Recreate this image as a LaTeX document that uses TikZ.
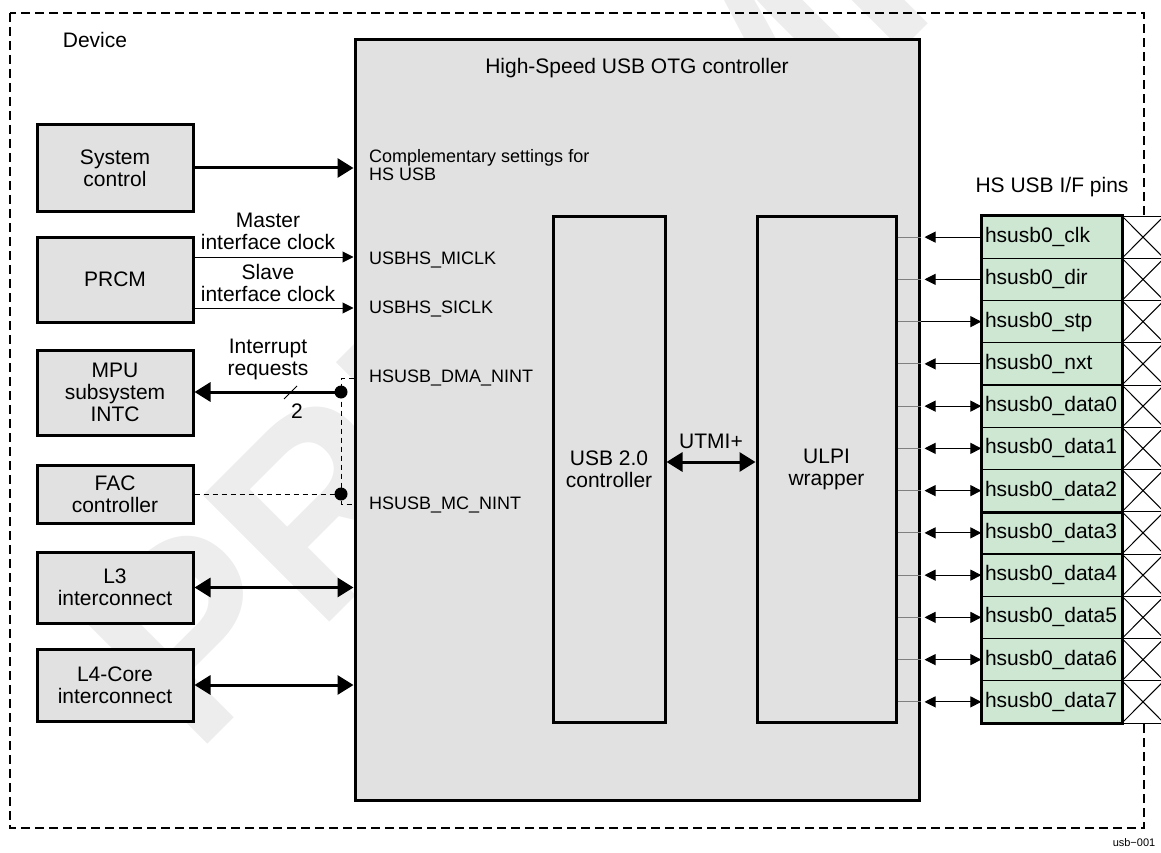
\documentclass[tikz,border=0pt]{standalone}
\usepackage{fontspec}
\setmainfont{Liberation Sans}
\usetikzlibrary{arrows.meta}
\definecolor{boxgray}{RGB}{225,225,225}
\definecolor{pingreen}{RGB}{205,231,211}
\definecolor{wmgray}{RGB}{237,237,237}
\begin{document}
\begin{tikzpicture}[x=1pt,y=-1pt,
  every node/.style={font=\fontsize{21}{22}\selectfont, inner sep=0pt},
  blk/.style={draw, line width=3pt, fill=boxgray, align=center},
  lbl/.style={anchor=west, align=left, font=\fontsize{18}{18}\selectfont},
  thinarr/.style={line width=1pt, -{Triangle[length=11pt,width=11pt]}},
  thinbi/.style={line width=1pt, {Triangle[length=11pt,width=11pt]}-{Triangle[length=11pt,width=11pt]}},
  thickarr/.style={line width=3pt, -{Triangle[length=16pt,width=19pt]}},
  thickbi/.style={line width=3pt, {Triangle[length=16pt,width=19pt]}-{Triangle[length=16pt,width=19pt]}},
  dashthin/.style={line width=1pt, dash pattern=on 5pt off 4pt},
  tick/.style={line width=1pt, gray},
  pinbox/.style={draw, line width=1.3pt, fill=pingreen, minimum height=42.25pt, text width=134pt, inner xsep=3pt, align=left},
  xbox/.style={draw, line width=1pt, fill=white, minimum width=42pt, minimum height=42.25pt}
]
\useasboundingbox (0,0) rectangle (1161,853);
% watermark
\node[font=\fontsize{260}{260}\selectfont\bfseries, text=wmgray, rotate=45, anchor=base west] (wm) at (195,757) {PRELIMINARY};
% device border
\draw[line width=2pt, dash pattern=on 9pt off 5pt] (10,13) rectangle (1144,828);
\node (dev) at (95,40) {Device};
% main controller
\node[blk, minimum width=564pt, minimum height=760pt] (main) at (637,420) {};
\node (title) at (637,68) {High-Speed USB OTG controller};
\node[blk, minimum width=112pt, minimum height=506pt] (usb) at (609,469) {USB 2.0\\controller};
\node[blk, minimum width=139pt, minimum height=506pt] (ulpi) at (826.5,469) {ULPI\\wrapper};
\draw[thickbi] (usb.east |- 0,462) -- (ulpi.west |- 0,462);
\node (utmi) at (711,441) {UTMI+};
% left blocks
\node[blk, minimum width=156pt, minimum height=86pt] (sys) at (115,168) {System\\control};
\node[blk, minimum width=156pt, minimum height=85pt] (prcm) at (115,279.5) {PRCM};
\node[blk, minimum width=156pt, minimum height=85pt] (mpu) at (115,392.5) {MPU\\subsystem\\INTC};
\node[blk, minimum width=156pt, minimum height=58pt] (fac) at (115,494) {FAC\\controller};
\node[blk, minimum width=156pt, minimum height=71pt] (l3) at (115,587.5) {L3\\interconnect};
\node[blk, minimum width=156pt, minimum height=72pt] (l4) at (115,685) {L4-Core\\interconnect};
% inner port labels
\node[lbl] (comp) at (369,165) {Complementary settings for\\HS USB};
\node[lbl] (micl) at (369,260) {USBHS\_MICLK};
\node[lbl] (sicl) at (369,309) {USBHS\_SICLK};
\node[lbl] (dma) at (369,378) {HSUSB\_DMA\_NINT};
\node[lbl] (mc) at (369,505) {HSUSB\_MC\_NINT};
% left connectors
\draw[thickarr] (sys.east) -- (main.west |- sys.east);
\draw[thinarr] (prcm.east |- 0,257) -- (main.west |- 0,257);
\node[align=center] (mlab) at (268,231) {Master\\interface clock};
\draw[thinarr] ([xshift=-3pt]prcm.east |- 0,308) -- (main.west |- 0,308);
\node[align=center] (slab) at (268,283) {Slave\\interface clock};
\coordinate (d1) at (341,392);
\coordinate (d2) at (341,494);
\draw[dashthin] (main.west |- 0,378) -- (341,378) -- (341,504) -- (main.west |- 0,504);
\draw[dashthin] (fac.east) -- (d2);
\draw[thickarr] (d1) -- (mpu.east |- d1);
\fill (d1) circle[radius=6.5pt];
\fill (d2) circle[radius=6.5pt];
\draw[line width=1pt] (284,399) -- (297,386);
\node (two) at (297,411) {2};
\node[align=center] (irq) at (268,359) {Interrupt\\requests};
\draw[thickbi] (l3.east) -- (main.west |- l3.east);
\draw[thickbi] (l4.east) -- (main.west |- l4.east);
% pins
\node (pinsl) at (1052,187) {HS USB I/F pins};
\foreach \n [count=\i] in {clk,dir,stp,nxt,data0,data1,data2,data3,data4,data5,data6,data7}{
  \pgfmathsetmacro{\yy}{216+(\i-0.5)*42.25}
  \node[pinbox] (p\i) at (1052,\yy) {hsusb0\_\n};
  \node[xbox] (x\i) at (1143,\yy) {};
  \draw[line width=1pt] (x\i.north west) -- (x\i.south east) (x\i.south west) -- (x\i.north east);
  \draw[tick] (ulpi.east |- p\i.west) -- (main.east |- p\i.west);
}
\draw[line width=2pt] (p1.north west) rectangle (p12.south east);
\draw[line width=2.5pt] (p7.south west) -- (p7.south east);
\foreach \i in {1,2,4}{
  \draw[thinarr] (p\i.west) -- ([xshift=4pt]main.east |- p\i.west);
}
\draw[thinarr] (main.east |- p3.west) -- (p3.west);
\foreach \i in {5,...,12}{
  \draw[thinbi] ([xshift=4pt]main.east |- p\i.west) -- (p\i.west);
}
\node[font=\fontsize{11}{11}\selectfont] (tag) at (1134,843) {usb−001};
\end{tikzpicture}
\end{document}
